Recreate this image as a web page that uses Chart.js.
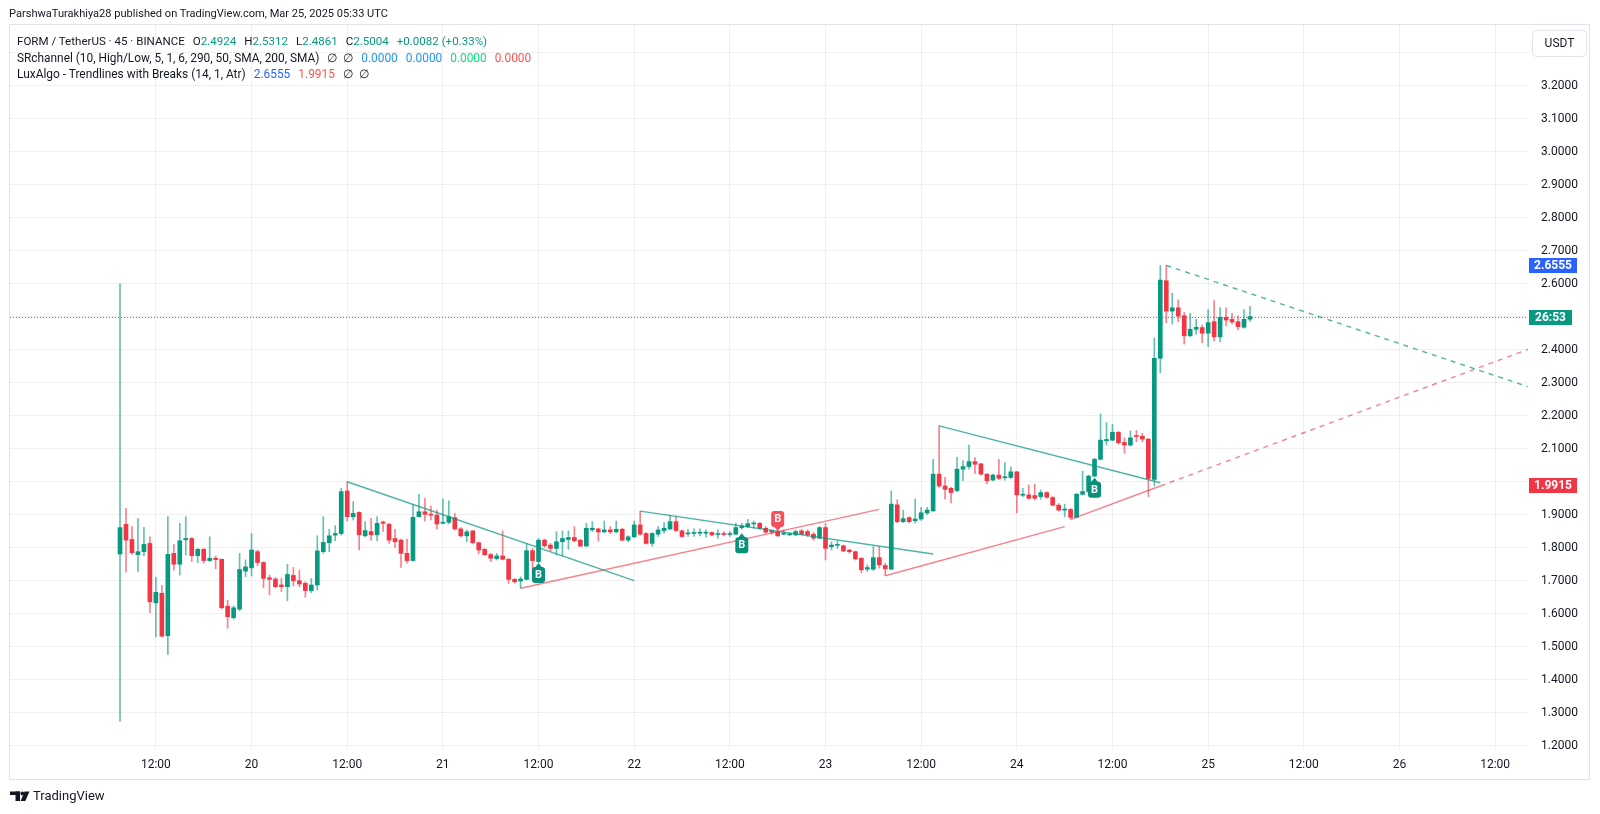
<!DOCTYPE html>
<html>
<head>
<meta charset="utf-8">
<script src="https://cdn.jsdelivr.net/npm/chart.js@4.4.1/dist/chart.umd.min.js"></script>
<style>
html,body{margin:0;padding:0;background:#fff;}
#wrap{position:relative;width:1600px;height:814px;overflow:hidden;font-family:Roboto,"Liberation Sans",sans-serif;color:#131722;}
#c{position:absolute;left:0;top:0;}
.t{position:absolute;white-space:pre;line-height:16px;}
.hdr{font-size:11.2px;}
.lg{font-size:12.4px;}
.g{margin-left:8px;}
.g6{margin-left:6px;}
.g8{margin-left:8px;}
.up{color:#089981;}
.bl{color:#2196f3;}
.gr{color:#00e676;}
.rd{color:#ff5252;}
.lb{color:#2962ff;}
</style>
</head>
<body>
<div id="wrap">
<canvas id="c" width="1600" height="814"></canvas>
<div class="t hdr fit" data-w="379" style="left:9px;top:6px;">ParshwaTurakhiya28 published on TradingView.com, Mar 25, 2025 05:33 UTC</div>
<div class="t lg fit" data-w="470" style="left:17px;top:33px;">FORM / TetherUS · 45 · BINANCE<span class="g">O<span class="up">2.4924</span></span><span class="g">H<span class="up">2.5312</span></span><span class="g">L<span class="up">2.4861</span></span><span class="g">C<span class="up">2.5004</span></span><span class="g up">+0.0082 (+0.33%)</span></div>
<div class="t lg fit" data-w="514" style="left:17px;top:50px;">SRchannel (10, High/Low, 5, 1, 6, 290, 50, SMA, 200, SMA)<span class="g8">∅</span><span class="g6">∅</span><span class="g8 bl">0.0000</span><span class="g8 bl">0.0000</span><span class="g8 gr">0.0000</span><span class="g8 rd">0.0000</span></div>
<div class="t lg fit" data-w="352" style="left:17px;top:66px;">LuxAlgo - Trendlines with Breaks (14, 1, Atr)<span class="g8 lb">2.6555</span><span class="g8 rd">1.9915</span><span class="g8">∅</span><span class="g6">∅</span></div>
<div class="t" style="left:33px;top:788px;font-size:13px;">TradingView</div>
</div>
<script>
// 45-minute bars, slot 0 = Mar 19 00:00 UTC; first bar in view = slot 10 (07:30)
const firstSlot = 10;
const opens = [
1.781,1.871,1.825,1.779,1.788,1.813,1.633,1.662,1.533,1.783,
1.750,1.824,1.828,1.776,1.795,1.761,1.768,1.765,1.623,1.588,
1.614,1.729,1.739,1.788,1.755,1.709,1.705,1.687,1.682,1.716,
1.700,1.692,1.670,1.687,1.788,1.815,1.838,1.843,1.972,1.894,
1.907,1.836,1.849,1.839,1.878,1.871,1.828,1.823,1.783,1.761,
1.894,1.909,1.902,1.899,1.874,1.877,1.891,1.857,1.836,1.851,
1.815,1.795,1.779,1.767,1.775,1.765,1.704,1.699,1.704,1.791,
1.758,1.823,1.808,1.798,1.818,1.825,1.831,1.823,1.805,1.854,
1.857,1.848,1.854,1.848,1.856,1.823,1.833,1.869,1.843,1.813,
1.841,1.852,1.857,1.879,1.851,1.842,1.843,1.844,1.844,1.846,
1.840,1.843,1.840,1.841,1.861,1.864,1.872,1.874,1.859,1.852,
1.849,1.841,1.839,1.839,1.851,1.849,1.841,1.829,1.861,1.803,
1.807,1.806,1.793,1.788,1.768,1.735,1.735,1.770,1.746,1.735,
1.930,1.879,1.891,1.882,1.887,1.905,1.912,2.023,1.987,1.980,
1.973,2.038,2.046,2.061,2.054,2.023,2.005,2.020,2.012,2.013,
2.030,1.959,1.960,1.958,1.955,1.967,1.952,1.929,1.914,1.916,
1.892,1.962,1.970,2.017,2.068,2.124,2.126,2.150,2.119,2.111,
2.140,2.138,2.129,2.007,2.374,2.609,2.517,2.527,2.503,2.442,
2.462,2.467,2.450,2.485,2.439,2.498,2.492,2.485,2.468,2.4924];
const highs = [
2.600,1.919,1.864,1.888,1.862,1.833,1.710,1.686,1.894,1.810,
1.874,1.894,1.831,1.798,1.798,1.833,1.775,1.766,1.641,1.623,
1.783,1.763,1.843,1.793,1.758,1.717,1.710,1.707,1.750,1.740,
1.732,1.697,1.707,1.836,1.894,1.856,1.867,1.980,2.000,1.940,
1.909,1.879,1.889,1.894,1.881,1.874,1.856,1.826,1.826,1.929,
1.962,1.950,1.926,1.914,1.948,1.942,1.904,1.861,1.854,1.852,
1.818,1.798,1.783,1.783,1.851,1.767,1.707,1.712,1.813,1.798,
1.828,1.826,1.813,1.849,1.851,1.851,1.864,1.825,1.874,1.879,
1.859,1.881,1.864,1.881,1.859,1.836,1.881,1.911,1.846,1.846,
1.864,1.876,1.899,1.896,1.854,1.856,1.857,1.857,1.854,1.848,
1.854,1.849,1.849,1.874,1.874,1.886,1.881,1.876,1.864,1.854,
1.852,1.854,1.845,1.854,1.856,1.854,1.846,1.864,1.874,1.818,
1.820,1.808,1.795,1.790,1.770,1.748,1.803,1.803,1.753,1.972,
1.945,1.914,1.894,1.948,1.922,1.922,2.068,2.169,2.013,1.983,
2.074,2.064,2.111,2.073,2.056,2.025,2.023,2.068,2.058,2.044,
2.031,1.980,1.990,1.993,1.975,1.970,1.955,1.934,1.932,1.919,
1.965,2.032,2.020,2.071,2.205,2.179,2.174,2.152,2.133,2.154,
2.155,2.147,2.131,2.436,2.655,2.6555,2.571,2.551,2.513,2.510,
2.492,2.475,2.522,2.549,2.528,2.527,2.510,2.503,2.522,2.5312];
const lows = [
1.274,1.727,1.780,1.727,1.775,1.603,1.530,1.530,1.477,1.732,
1.717,1.778,1.758,1.755,1.753,1.758,1.736,1.615,1.556,1.583,
1.609,1.712,1.714,1.745,1.679,1.657,1.679,1.667,1.639,1.684,
1.682,1.650,1.664,1.672,1.783,1.788,1.821,1.838,1.881,1.884,
1.793,1.833,1.823,1.821,1.849,1.813,1.801,1.740,1.753,1.760,
1.893,1.881,1.884,1.857,1.872,1.872,1.854,1.833,1.818,1.813,
1.781,1.776,1.758,1.763,1.763,1.692,1.692,1.677,1.702,1.717,
1.754,1.801,1.791,1.778,1.775,1.795,1.818,1.804,1.804,1.849,
1.820,1.846,1.843,1.846,1.821,1.818,1.831,1.838,1.811,1.805,
1.834,1.844,1.854,1.849,1.832,1.834,1.834,1.836,1.832,1.836,
1.829,1.836,1.834,1.839,1.856,1.861,1.859,1.856,1.844,1.841,
1.834,1.839,1.836,1.836,1.839,1.834,1.823,1.827,1.763,1.793,
1.798,1.788,1.783,1.763,1.724,1.728,1.731,1.738,1.715,1.733,
1.875,1.876,1.875,1.875,1.883,1.901,1.909,1.983,1.947,1.936,
1.970,2.003,2.038,2.025,2.020,1.993,2.003,2.007,2.005,2.010,
1.906,1.955,1.947,1.945,1.947,1.950,1.927,1.911,1.894,1.886,
1.890,1.960,1.965,2.015,2.066,2.111,2.124,2.114,2.086,2.108,
2.121,2.121,1.955,1.987,2.330,2.482,2.478,2.485,2.417,2.440,
2.447,2.421,2.409,2.427,2.424,2.472,2.478,2.460,2.465,2.4861];
const closes = [
1.861,1.823,1.785,1.788,1.810,1.636,1.665,1.532,1.780,1.750,
1.821,1.828,1.776,1.795,1.761,1.768,1.764,1.618,1.591,1.618,
1.734,1.742,1.793,1.755,1.707,1.704,1.682,1.682,1.719,1.700,
1.690,1.670,1.687,1.790,1.816,1.836,1.843,1.970,1.894,1.904,
1.839,1.852,1.839,1.874,1.874,1.823,1.818,1.783,1.761,1.892,
1.909,1.901,1.899,1.872,1.877,1.894,1.857,1.836,1.848,1.815,
1.793,1.779,1.768,1.775,1.765,1.704,1.697,1.705,1.791,1.761,
1.823,1.806,1.798,1.818,1.828,1.831,1.821,1.805,1.859,1.859,
1.848,1.854,1.848,1.856,1.823,1.833,1.869,1.841,1.813,1.843,
1.854,1.859,1.879,1.852,1.834,1.844,1.844,1.845,1.845,1.839,
1.842,1.840,1.842,1.861,1.866,1.873,1.874,1.859,1.847,1.847,
1.836,1.844,1.842,1.849,1.841,1.839,1.829,1.861,1.798,1.808,
1.810,1.790,1.788,1.766,1.733,1.740,1.770,1.748,1.736,1.932,
1.879,1.888,1.879,1.887,1.906,1.914,2.023,1.987,1.977,1.967,
2.038,2.046,2.061,2.053,2.023,2.003,2.020,2.010,2.015,2.030,
1.960,1.962,1.950,1.950,1.967,1.953,1.929,1.914,1.917,1.892,
1.962,1.970,2.017,2.068,2.126,2.128,2.150,2.118,2.111,2.133,
2.137,2.129,2.010,2.374,2.611,2.517,2.527,2.502,2.442,2.462,
2.468,2.450,2.482,2.439,2.498,2.490,2.484,2.470,2.492,2.5004];

// time axis ticks (slot numbers) and their labels
const tickSlots  = [16,32,48,64,80,96,112,128,144,160,176,192,208,224,240];
const tickLabels = ["12:00","20","12:00","21","12:00","22","12:00","23","12:00","24","12:00","25","12:00","26","12:00"];
// price axis ticks (labels hidden where a price tag covers them)
const priceTicks = [1.2,1.3,1.4,1.5,1.6,1.7,1.8,1.9,2.0,2.1,2.2,2.3,2.4,2.5,2.6,2.7,2.8,2.9,3.0,3.1,3.2,3.3];
const hiddenPriceLabels = [2.0, 2.5, 3.3];

// LuxAlgo trendlines: [slotA, priceA, slotB, priceB]
const upperLines  = [[48,2.000,96,1.700],[97,1.911,146,1.781],[147,2.169,184,1.997]];
const upperDashed = [[185,2.6555,245.5,2.288]];
const lowerLines  = [[77,1.677,137,1.916],[138,1.715,168,1.864],[169,1.886,184,1.987]];
const lowerDashed = [[184,1.987,245.5,2.401]];

// break labels
const breakSlots  = [80,114,120,173];
const breakPrices = [1.754,1.844,1.851,2.012];
const breakUp     = [true,true,false,true];

// last price / price-scale tags
const lastPrice = 2.5004;
const tagPrices = [2.6555, 2.5004, 1.9915];
const tagTexts  = ["2.6555","26:53","1.9915"];

// fit legend text widths
document.querySelectorAll('.fit').forEach(el => {
  for (let pass = 0; pass < 3; pass++) {
    const target = parseFloat(el.dataset.w);
    const w = el.getBoundingClientRect().width;
    const fs = parseFloat(getComputedStyle(el).fontSize);
    el.style.fontSize = (fs * target / w).toFixed(2) + 'px';
  }
});

const UP = '#089981', DOWN = '#F23645';
const slots = opens.map((_, k) => firstSlot + k);
const candleColors = opens.map((o, k) => closes[k] >= o ? UP : DOWN);
const wickColors = opens.map((o, k) => closes[k] >= o ? 'rgba(8,153,129,0.62)' : 'rgba(242,54,69,0.62)');
const bodyData = slots.map((s, k) => ({x: s, y: [opens[k], closes[k]]}));
const wickData = slots.map((s, k) => ({x: s, y: [lows[k], highs[k]]}));

function lineSet(seg, color, dash) {
  return {type:'line', data:[{x:seg[0],y:seg[1]},{x:seg[2],y:seg[3]}], borderColor:color,
    borderWidth:1.4, borderDash:dash||[], pointRadius:0, fill:false, order:0, tension:0};
}
const teal = 'rgba(8,153,129,0.72)', red = 'rgba(242,54,69,0.62)';
const lineSets = [
  ...upperLines.map(s => lineSet(s, teal)),
  ...upperDashed.map(s => lineSet(s, teal, [5,5])),
  ...lowerLines.map(s => lineSet(s, red)),
  ...lowerDashed.map(s => lineSet(s, red, [5,5]))
];

Chart.defaults.font.family = 'Roboto, "Liberation Sans", sans-serif';
Chart.defaults.font.size = 12;
Chart.defaults.color = '#131722';

function rrect(ctx, x, y, w, h, r) {
  ctx.beginPath();
  ctx.moveTo(x + r, y);
  ctx.lineTo(x + w - r, y); ctx.quadraticCurveTo(x + w, y, x + w, y + r);
  ctx.lineTo(x + w, y + h - r); ctx.quadraticCurveTo(x + w, y + h, x + w - r, y + h);
  ctx.lineTo(x + r, y + h); ctx.quadraticCurveTo(x, y + h, x, y + h - r);
  ctx.lineTo(x, y + r); ctx.quadraticCurveTo(x, y, x + r, y);
  ctx.closePath();
}

const bgPlugin = {
  id: 'bg',
  beforeDraw(chart) {
    const ctx = chart.ctx;
    ctx.save();
    ctx.fillStyle = '#fff';
    ctx.fillRect(0, 0, chart.width, chart.height);
    ctx.strokeStyle = '#e0e3eb';
    ctx.lineWidth = 1;
    ctx.strokeRect(9.5, 24.5, 1580, 755);
    ctx.restore();
  }
};

const overlayPlugin = {
  id: 'overlay',
  afterDatasetsDraw(chart) {
    const {ctx, chartArea: a, scales: {x, y}} = chart;
    ctx.save();
    // last price dotted line
    const py = Math.round(y.getPixelForValue(lastPrice)) + 0.5;
    ctx.strokeStyle = 'rgba(8,153,129,0.85)';
    ctx.lineWidth = 1;
    ctx.setLineDash([1, 2]);
    ctx.beginPath(); ctx.moveTo(a.left, py); ctx.lineTo(a.right, py); ctx.stroke();
    ctx.setLineDash([]);
    // break labels
    breakSlots.forEach((s, k) => {
      const cx = x.getPixelForValue(s);
      const tip = y.getPixelForValue(breakPrices[k]);
      const w = 13, h = 16, p = 4;
      const up = breakUp[k];
      const top = up ? tip + p : tip - p - h;
      ctx.fillStyle = up ? '#0a8f78' : '#f4505d';
      rrect(ctx, cx - w / 2, top, w, h, 3); ctx.fill();
      ctx.beginPath();
      if (up) { ctx.moveTo(cx - 4, top + 1); ctx.lineTo(cx, tip); ctx.lineTo(cx + 4, top + 1); }
      else { ctx.moveTo(cx - 4, top + h - 1); ctx.lineTo(cx, tip); ctx.lineTo(cx + 4, top + h - 1); }
      ctx.closePath(); ctx.fill();
      ctx.fillStyle = '#fff';
      ctx.font = 'bold 11px Roboto, sans-serif';
      ctx.textAlign = 'center'; ctx.textBaseline = 'middle';
      ctx.fillText('B', cx, top + h / 2 + 0.5);
    });
    ctx.restore();
  },
  afterDraw(chart) {
    const {ctx, chartArea: a, scales: {y}} = chart;
    ctx.save();
    const tagColors = ['#2962ff', '#089981', '#f23645'];
    const tagW = [48, 43, 48];
    tagPrices.forEach((v, k) => {
      const cy = Math.round(y.getPixelForValue(v));
      ctx.fillStyle = tagColors[k];
      ctx.fillRect(a.right + 1, cy - 7, tagW[k], 15);
      ctx.fillStyle = '#fff';
      ctx.font = 'bold 12px Roboto, sans-serif';
      ctx.textAlign = 'center'; ctx.textBaseline = 'middle';
      ctx.fillText(tagTexts[k], a.right + 1 + tagW[k] / 2, cy + 0.5);
    });
    // USDT button
    ctx.fillStyle = '#fff';
    ctx.strokeStyle = '#e0e3eb';
    rrect(ctx, 1532.5, 30.5, 54, 26, 4); ctx.fill(); ctx.stroke();
    ctx.fillStyle = '#131722';
    ctx.font = '12px Roboto, sans-serif';
    ctx.textAlign = 'center'; ctx.textBaseline = 'middle';
    ctx.fillText('USDT', 1559.5, 44);
    // TradingView logo mark
    ctx.fillStyle = '#131722';
    ctx.fillRect(10, 791.5, 10, 3.5);
    ctx.fillRect(15.5, 791.5, 4.5, 9.5);
    ctx.beginPath(); ctx.arc(22.3, 793.4, 1.9, 0, Math.PI * 2); ctx.fill();
    ctx.beginPath();
    ctx.moveTo(24.5, 791.5); ctx.lineTo(29.5, 791.5); ctx.lineTo(25.3, 801); ctx.lineTo(20.6, 801);
    ctx.closePath(); ctx.fill();
    ctx.restore();
  }
};

new Chart(document.getElementById('c'), {
  data: {
    datasets: [
      {type:'bar', label:'body', data: bodyData, backgroundColor: candleColors, barThickness: 4,
       minBarLength: 1, grouped: false, order: 1},
      {type:'bar', label:'wick', data: wickData, backgroundColor: wickColors, barThickness: 1,
       grouped: false, order: 2},
      ...lineSets
    ]
  },
  options: {
    responsive: false,
    animation: false,
    devicePixelRatio: 1,
    layout: {padding: {left: 10, top: 25, right: 0, bottom: 34}},
    plugins: {legend: {display: false}, tooltip: {enabled: false}},
    scales: {
      x: {
        type: 'linear', min: -8.4, max: 245.5, offset: false,
        afterBuildTicks: s => { s.ticks = tickSlots.map(v => ({value: v})); },
        afterFit: s => { s.height = 30; },
        ticks: {autoSkip: false, maxRotation: 0, padding: 8, color: '#131722',
          callback: (v, i) => tickLabels[i]},
        grid: {color: 'rgba(42,46,57,0.07)', drawTicks: false, offset: false},
        border: {display: false}
      },
      y: {
        type: 'linear', position: 'right', min: 1.187, max: 3.384,
        afterBuildTicks: s => { s.ticks = priceTicks.map(v => ({value: v})); },
        afterFit: s => { s.width = 72; },
        ticks: {padding: 13, color: '#131722',
          callback: v => hiddenPriceLabels.some(h => Math.abs(h - v) < 1e-6) ? '' : Number(v).toFixed(4)},
        grid: {color: 'rgba(42,46,57,0.07)', drawTicks: false},
        border: {display: false}
      }
    }
  },
  plugins: [bgPlugin, overlayPlugin]
});
</script>
</body>
</html>
